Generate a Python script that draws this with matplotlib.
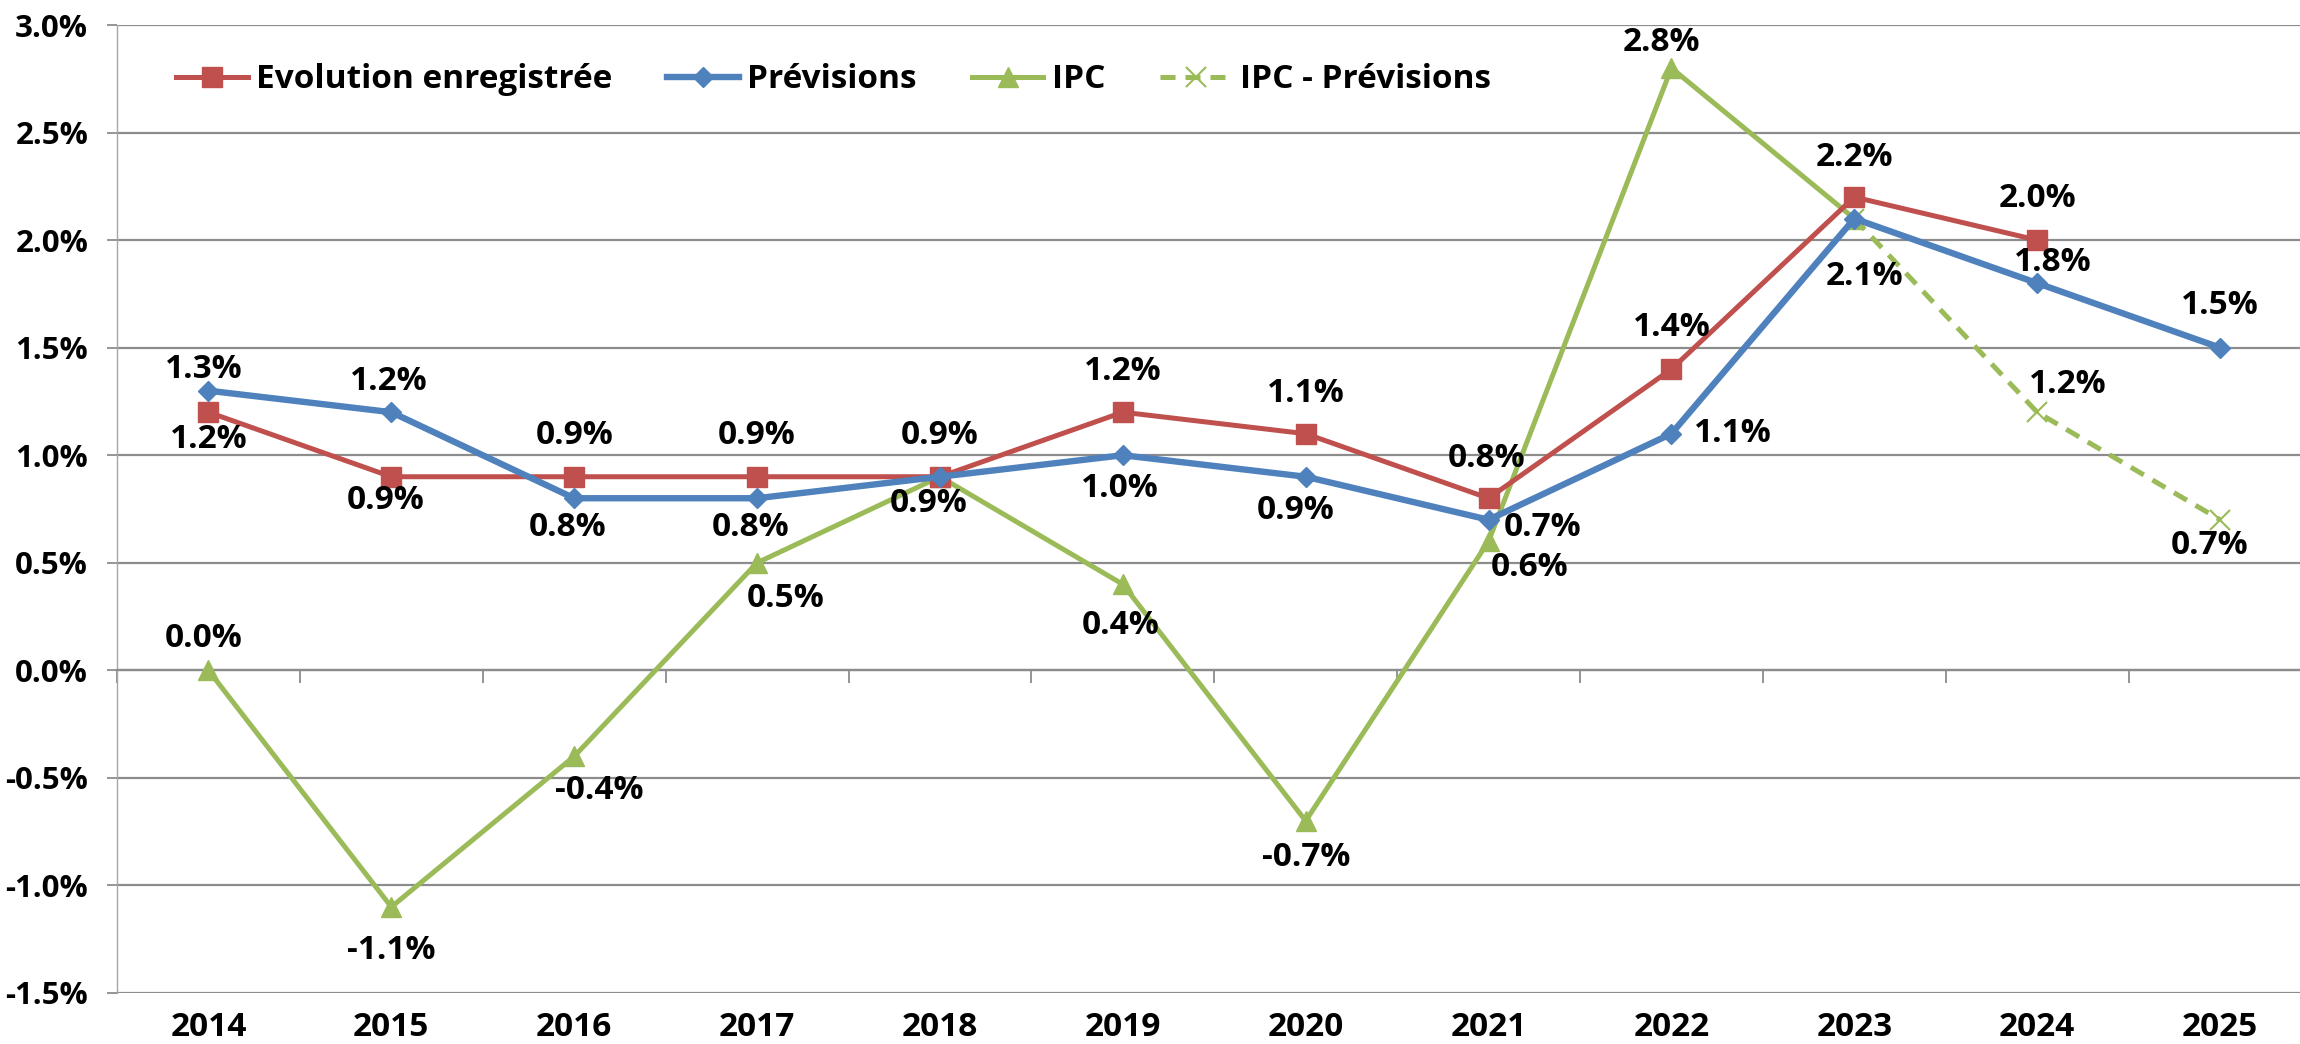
import matplotlib
matplotlib.use("Agg")
import matplotlib.pyplot as plt
from matplotlib.ticker import FuncFormatter, MultipleLocator, FixedLocator
import numpy as np

plt.rcParams['font.family'] = ['Open Sans', 'DejaVu Sans']

years = ['2014', '2015', '2016', '2017', '2018', '2019', '2020', '2021', '2022', '2023', '2024', '2025']
evolution = [1.2, 0.9, 0.9, 0.9, 0.9, 1.2, 1.1, 0.8, 1.4, 2.2, 2.0, None]
previsions = [1.3, 1.2, 0.8, 0.8, 0.9, 1.0, 0.9, 0.7, 1.1, 2.1, 1.8, 1.5]
ipc = [0.0, -1.1, -0.4, 0.5, 0.9, 0.4, -0.7, 0.6, 2.8, 2.1, None, None]
ipc_prev = [None, None, None, None, None, None, None, None, None, 2.1, 1.2, 0.7]

series_names = ['Evolution enregistrée', 'Prévisions', 'IPC', 'IPC - Prévisions']

# label offsets in pixels (dx, dy) per series, per point; None = no label
off_evol = [(0, -27), (-6, -24), (0, 41), (0, 41), (0, 41), (0, 41), (0, 40), (-2, 40), (0, 42), (0, 40), (0, 42), None]
off_prev = [(-5, 21), (-3, 31), (-7, -29), (-7, -29), (-11, -27), (-3, -33), (-10, -34), (54, -8), (61, 0), (10, -58), (16, 21), (0, 42)]
off_ipc = [(-5, 32), (0, -44), (25, -34), (29, -36), None, (-2, -41), (0, -37), (41, -26), (-10, 26), None, None, None]
off_ipcp = [None, None, None, None, None, None, None, None, None, None, (31, 28), (-11, -26)]

RED = '#C0504D'
BLUE = '#4F81BD'
GREEN = '#9BBB59'
GRID = '#8c8c8c'

W, H = 2300, 1044
DPI = 100
FS = 24
fig = plt.figure(figsize=(W / DPI, H / DPI), dpi=DPI)
ax = fig.add_axes([117 / W, 51 / H, 1 - 117 / W + 0.005, (993 - 25) / H])

x = np.arange(len(years))

def arr(v):
    return np.array([np.nan if a is None else a for a in v], dtype=float)

ye, yp, yi, yip = arr(evolution), arr(previsions), arr(ipc), arr(ipc_prev)

ax.plot(x, ye, color=RED, lw=3.6, marker='s', ms=14, mfc=RED, mec=RED, label=series_names[0], zorder=4)
ax.plot(x, yp, color=BLUE, lw=4.6, marker='D', ms=10, mfc=BLUE, mec=BLUE, label=series_names[1], zorder=5)
ax.plot(x, yi, color=GREEN, lw=3.6, marker='^', ms=14, mfc=GREEN, mec=GREEN, label=series_names[2], zorder=3)
ax.plot(x, yip, color=GREEN, lw=3.6, ls=(0, (3, 2)), marker='x', ms=14, mew=1.5, mec=GREEN, label=series_names[3], zorder=3)

ax.set_xlim(-0.5, 11.5)
ax.set_ylim(-1.5, 3.0)
ax.yaxis.set_major_locator(MultipleLocator(0.5))
ax.yaxis.set_major_formatter(FuncFormatter(lambda v, p: f"{v:.1f}%"))
ax.grid(axis='y', color=GRID, lw=1.6)
ax.set_axisbelow(True)

for s in ['top', 'right']:
    ax.spines[s].set_visible(False)
ax.spines['left'].set_color('#a6a6a6')
ax.spines['left'].set_linewidth(1.0)
ax.spines['bottom'].set_position(('data', 0))
ax.spines['bottom'].set_color(GRID)
ax.spines['bottom'].set_linewidth(1.6)

ax.xaxis.set_major_locator(FixedLocator(np.arange(-0.5, 12, 1.0)))
ax.xaxis.set_major_formatter(FuncFormatter(lambda v, p: ''))
ax.tick_params(axis='x', direction='out', length=9, width=1.3, color=GRID)
ax.tick_params(axis='y', direction='out', length=7.2, width=1.3, color=GRID, labelsize=22.5, pad=13.5)
for t in ax.get_yticklabels():
    t.set_fontweight('bold')

tr = ax.get_xaxis_transform()
for i, yr in enumerate(years):
    ax.text(i, -0.036, yr, transform=tr, ha='center', va='center', fontsize=FS, fontweight='bold')

def add_labels(vals, offs):
    for i, (v, o) in enumerate(zip(vals, offs)):
        if o is None or v is None:
            continue
        ax.annotate(f"{v:.1f}%", (i, v), xytext=(o[0] * 0.72, o[1] * 0.72), textcoords='offset points',
                    ha='center', va='center', fontsize=FS, fontweight='bold', zorder=6)

add_labels(evolution, off_evol)
add_labels(previsions, off_prev)
add_labels(ipc, off_ipc)
add_labels(ipc_prev, off_ipcp)

leg = ax.legend(loc='center left', bbox_to_anchor=(176 / W, 1 - 80 / H), bbox_transform=fig.transFigure,
                ncol=4, frameon=False, prop={'size': FS, 'weight': 'bold'}, handlelength=2.15,
                handletextpad=0.25, columnspacing=1.65, borderaxespad=0, borderpad=0)

fig.savefig('out.png', dpi=DPI)
